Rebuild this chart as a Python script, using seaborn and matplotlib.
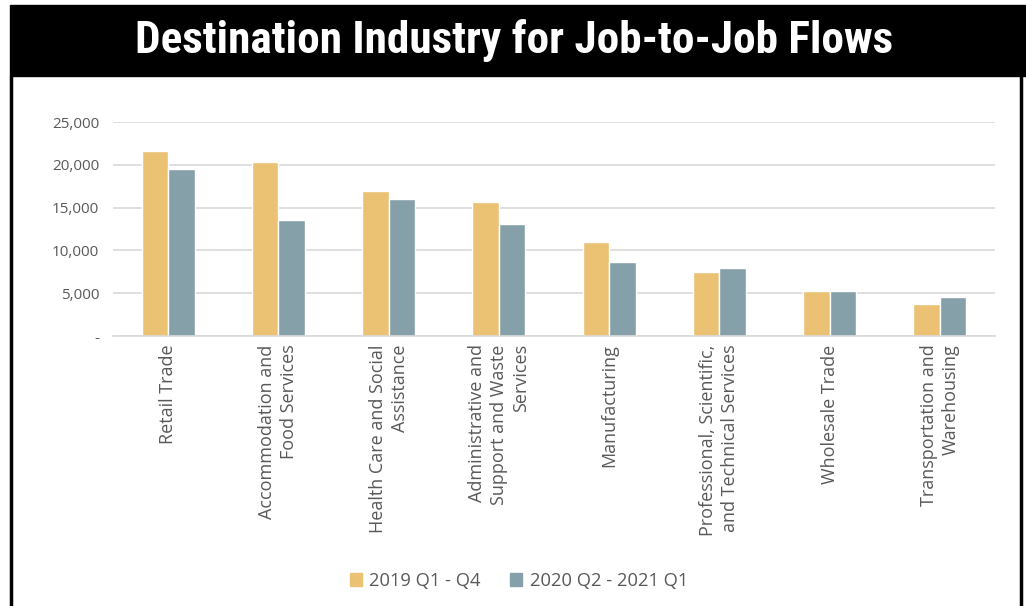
import pandas as pd
import seaborn as sns
import matplotlib.pyplot as plt
from matplotlib import font_manager
from matplotlib.patches import Rectangle
from matplotlib.lines import Line2D

industries = [
    "Retail Trade",
    "Accommodation and\nFood Services",
    "Health Care and Social\nAssistance",
    "Administrative and\nSupport and Waste\nServices",
    "Manufacturing",
    "Professional, Scientific,\nand Technical Services",
    "Wholesale Trade",
    "Transportation and\nWarehousing",
]
periods = ["2019 Q1 - Q4", "2020 Q2 - 2021 Q1"]
flows_2019 = [21600, 20300, 16900, 15600, 10950, 7450, 5300, 3750]
flows_2020 = [19550, 13500, 16050, 13050, 8600, 7900, 5300, 4550]
colors = ["#EBC173", "#86A0AA"]

df = pd.DataFrame({
    "industry": industries * 2,
    "period": [periods[0]] * 8 + [periods[1]] * 8,
    "flows": flows_2019 + flows_2020,
})

sns.set_style("white")
plt.rcParams['font.family'] = ['Open Sans', 'DejaVu Sans']

# pick a narrow bold face for the title if one is installed
installed = {f.name for f in font_manager.fontManager.ttflist}
title_font = "Roboto"
title_stretch = "normal"
for name in ["Roboto Condensed", "Liberation Sans Narrow", "Open Sans Condensed"]:
    if name in installed:
        title_font = name
        break
else:
    for f in font_manager.fontManager.ttflist:
        if f.name == "DejaVu Sans" and f.stretch == "condensed":
            title_font, title_stretch = "DejaVu Sans", "condensed"
            break

W, H = 1026, 606
fig = plt.figure(figsize=(W / 100, H / 100), dpi=100)

# black title bar + frame
fig.patches.append(Rectangle((10 / W, 1 - 76 / H), 1 - 10 / W, 71 / H,
                             transform=fig.transFigure, color="black"))
fig.add_artist(Line2D([11 / W, 11 / W], [0, 1 - 76 / H], transform=fig.transFigure,
                      color="black", lw=2.5))
fig.add_artist(Line2D([1021 / W, 1021 / W], [0, 1 - 76 / H], transform=fig.transFigure,
                      color="black", lw=2.5))
title = fig.text(514 / W, 1 - 40 / H, "Destination Industry for Job-to-Job Flows",
                 color="white", fontsize=30, fontweight="bold",
                 family=[title_font, "DejaVu Sans"], fontstretch=title_stretch,
                 ha="center", va="center")
renderer = fig.canvas.get_renderer()
tw = title.get_window_extent(renderer).width
title.set_fontsize(min(34, 30 * 758 / tw))

ax = fig.add_axes([113 / W, 1 - 336 / H, (995 - 113) / W, 214 / H])
sns.barplot(data=df, x="industry", y="flows", hue="period", palette=colors,
            width=0.48, saturation=1, ax=ax, legend=True)

ax.set_ylim(0, 25000)
ax.set_yticks(range(0, 25001, 5000))
ax.set_yticklabels(["-"] + [f"{v:,}" for v in range(5000, 25001, 5000)])
ax.grid(axis="y", color="#D9D9D9", lw=1.2)
ax.set_axisbelow(True)
for s in ["left", "right", "top"]:
    ax.spines[s].set_visible(False)
ax.spines["bottom"].set_color("#D9D9D9")
ax.spines["bottom"].set_linewidth(1.2)
ax.tick_params(axis="both", length=0, colors="#595959")
ax.tick_params(axis="y", pad=10, labelsize=11)
ax.tick_params(axis="x", pad=6, labelsize=13)
for lbl in ax.get_xticklabels():
    lbl.set_rotation(90)
    lbl.set_multialignment("right")
    lbl.set_va("top")
    lbl.set_ha("center")
    lbl.set_linespacing(1.28)
ax.set_xlabel("")
ax.set_ylabel("")

handles = [Rectangle((0, 0), 1, 1, color=c) for c in colors]
ax.legend(handles, periods, loc="center", bbox_to_anchor=(519 / W, 1 - 581 / H),
          bbox_transform=fig.transFigure, ncol=2, frameon=False,
          fontsize=13.2, labelcolor="#595959", handlelength=0.65, handleheight=0.65,
          handletextpad=0.4, columnspacing=1.6)

fig.savefig("out.png", dpi=100)
